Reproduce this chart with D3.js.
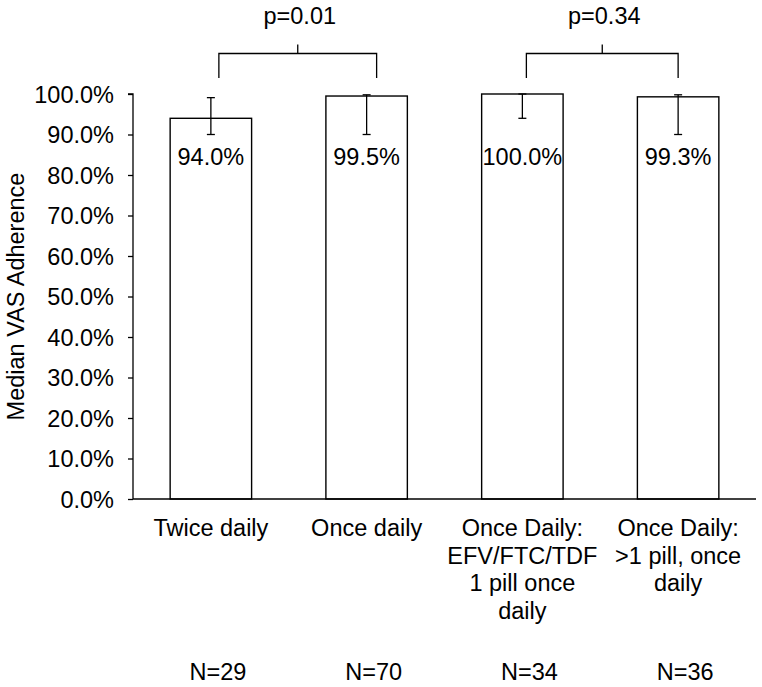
<!DOCTYPE html>
<html>
<head>
<meta charset="utf-8">
<script src="https://cdn.jsdelivr.net/npm/d3@7"></script>
<style>
  html, body { margin: 0; padding: 0; background: #fff; }
  svg { display: block; font-family: "Liberation Sans", Arial, sans-serif; }
</style>
</head>
<body>
<svg id="chart" width="762" height="687"></svg>
<script>
// ---- data ----
const categories = [
  ["Twice daily"],
  ["Once daily"],
  ["Once Daily:", "EFV/FTC/TDF", "1 pill once", "daily"],
  ["Once Daily:", ">1 pill, once", "daily"]
];
const medians   = [94.0, 99.5, 100.0, 99.3];
const errLow    = [90.0, 90.0, 94.0, 90.0];
const errHigh   = [99.1, 99.8, 100.0, 99.8];
const nLabels   = ["N=29", "N=70", "N=34", "N=36"];
const yTicks    = [0, 10, 20, 30, 40, 50, 60, 70, 80, 90, 100];
const comparisons = [
  { a: 0, b: 1, label: "p=0.01" },
  { a: 2, b: 3, label: "p=0.34" }
];
const yTitle = "Median VAS Adherence";

// ---- layout ----
const svg = d3.select("#chart");
const mLeft = 133, mRight = 756, mTop = 94, mBottom = 499;
const fs = 23.5;

const x = d3.scaleBand().domain(d3.range(categories.length)).range([mLeft, mRight]).padding(0);
const barW = x.bandwidth() * 0.523;
const cx = i => x(i) + x.bandwidth() / 2;
const y = d3.scaleLinear().domain([0, 100]).range([mBottom, mTop]);

// y axis
const yAxis = d3.axisLeft(y).tickValues(yTicks).tickSize(5).tickPadding(14)
  .tickFormat(d => d3.format(".1f")(d) + "%");
const gy = svg.append("g").attr("transform", `translate(${mLeft},0)`).call(yAxis);
gy.select(".domain").attr("stroke", "#000").attr("stroke-width", 1.3).attr("d", `M-5,${mTop}H0V${mBottom}`);
gy.selectAll(".tick line").attr("stroke", "#000").attr("stroke-width", 1.3);
gy.selectAll(".tick text").attr("fill", "#000").style("font-size", fs + "px")
  .style("font-family", '"Liberation Sans", Arial, sans-serif').attr("dy", "0.35em");

// y title
svg.append("text")
  .attr("transform", `translate(${24},${(mTop + mBottom) / 2}) rotate(-90)`)
  .attr("text-anchor", "middle")
  .style("font-size", fs + "px")
  .attr("fill", "#000")
  .text(yTitle);

// bars
svg.append("g").selectAll("rect").data(medians).join("rect")
  .attr("x", (d, i) => cx(i) - barW / 2)
  .attr("y", d => y(d))
  .attr("width", barW)
  .attr("height", d => y(0) - y(d))
  .attr("fill", "#fff")
  .attr("stroke", "#000")
  .attr("stroke-width", 1.4);

// x axis line
svg.append("line").attr("x1", mLeft).attr("x2", mRight).attr("y1", mBottom).attr("y2", mBottom)
  .attr("stroke", "#000").attr("stroke-width", 1.4);

// error bars
const eb = svg.append("g").attr("stroke", "#000").attr("stroke-width", 1.3);
medians.forEach((m, i) => {
  const c = cx(i);
  eb.append("line").attr("x1", c).attr("x2", c).attr("y1", y(errHigh[i])).attr("y2", y(errLow[i]));
  eb.append("line").attr("x1", c - 4).attr("x2", c + 4).attr("y1", y(errHigh[i])).attr("y2", y(errHigh[i]));
  eb.append("line").attr("x1", c - 4).attr("x2", c + 4).attr("y1", y(errLow[i])).attr("y2", y(errLow[i]));
});

// value labels
svg.append("g").selectAll("text").data(medians).join("text")
  .attr("x", (d, i) => cx(i))
  .attr("y", y(100) + 71)
  .attr("text-anchor", "middle")
  .style("font-size", fs + "px")
  .attr("fill", "#000")
  .text(d => d3.format(".1f")(d) + "%");

// category labels
const cat = svg.append("g");
categories.forEach((lines, i) => {
  const t = cat.append("text").attr("text-anchor", "middle").style("font-size", fs + "px").attr("fill", "#000");
  lines.forEach((ln, j) => {
    t.append("tspan").attr("x", cx(i)).attr("y", mBottom + 37 + j * 27.7).text(ln);
  });
});

// N labels
svg.append("g").selectAll("text").data(nLabels).join("text")
  .attr("x", (d, i) => cx(i) + 7)
  .attr("y", 680)
  .attr("text-anchor", "middle")
  .style("font-size", fs + "px")
  .attr("fill", "#000")
  .text(d => d);

// comparison brackets
const nudges = [[8, 10], [4, 0]];
const br = svg.append("g");
comparisons.forEach((c, k) => {
  const x1 = cx(c.a) + nudges[k][0], x2 = cx(c.b) + nudges[k][1];
  const yb = 53.5, yl = 78, mid = (x1 + x2) / 2;
  br.append("path")
    .attr("d", `M${x1},${yl}V${yb}H${x2}V${yl}M${mid},${yb}V${yb - 9}`)
    .attr("fill", "none").attr("stroke", "#000").attr("stroke-width", 1.3);
  br.append("text").attr("x", mid + 2).attr("y", 23.5).attr("text-anchor", "middle")
    .style("font-size", fs + "px").attr("fill", "#000").text(c.label);
});
</script>
</body>
</html>
